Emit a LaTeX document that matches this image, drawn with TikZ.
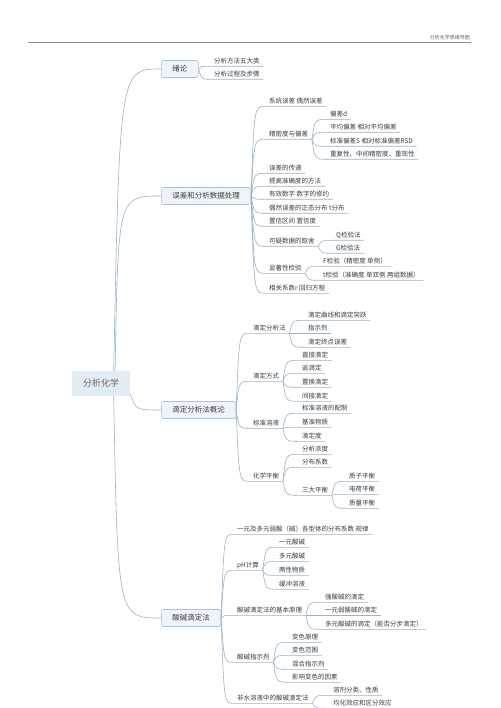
\documentclass[tikz,border=0pt]{standalone}
\usepackage{fontspec}
\setmainfont{Noto Sans CJK SC}
\usetikzlibrary{calc}
\definecolor{lc}{HTML}{9BB3C7}
\definecolor{tc}{HTML}{3C3C3C}
\definecolor{bf}{HTML}{EEF4FA}
\definecolor{bd}{HTML}{A9C2D6}
\definecolor{rf}{HTML}{E2ECF6}
\tikzset{
 conn/.style={draw=lc, line width=0.6pt},
 leaf/.style={anchor=west, inner xsep=3.5pt, inner ysep=1pt, text height=5pt, text depth=1.2pt, font=\fontsize{6.5}{7}\selectfont, text=tc},
 topic/.style={anchor=west, draw=bd, fill=bf, rounded corners=2pt, line width=0.6pt, inner xsep=11pt, minimum height=17pt, font=\fontsize{7.5}{9}\selectfont, text=tc},
 rootbox/.style={fill=rf, minimum width=58pt, minimum height=25pt, font=\fontsize{9}{11}\selectfont, text=black!60},
}
\newcommand\mmlink[2]{\draw[conn] (#1) .. controls ($(#1 |- #2.south west)+(3,0)$) .. (#2.south west) -- (#2.south east);}
\newcommand\mmroot[3]{\draw[conn] (#1) .. controls ($(#1 |- #2.west)+(#3,0)$) .. (#2.west);}
\begin{document}
\begin{tikzpicture}[x=1pt,y=-1pt]
\useasboundingbox (0,0) rectangle (500,708);
\fill[white] (0,0) rectangle (500,708);
% header
\node[anchor=south east, font=\fontsize{5}{6}\selectfont, text=black!60, inner sep=1pt] (hd) at (471,41) {分析化学思维导图};
\coordinate (hl) at (28,42);
\draw[black!45, line width=0.5pt] (hl) -- (hl -| hd.east);
% root
\node[rootbox] (root) at (101,383.5) {分析化学};
% main topics
\node[topic] (A) at (161,69) {绪论};
\node[topic] (B) at (161,196) {误差和分析数据处理};
\node[topic] (C) at (161,410) {滴定分析法概论};
\node[topic] (D) at (161,618) {酸碱滴定法};
\mmroot{root.45}{A}{6}
\mmroot{root.42}{B}{3}
\mmroot{root.-20}{C}{6}
\mmroot{root.-45}{D}{4}
% A
\node[leaf] (a1) at (210.5,62) {分析方法五大类};
\node[leaf] (a2) at (210.5,75) {分析过程及步骤};
\mmlink{A.east}{a1}\mmlink{A.east}{a2}
% B
\node[leaf] (b1) at (265.5,102) {系统误差 偶然误差};
\node[leaf] (b2) at (265.5,135) {精密度与偏差};
\node[leaf] (b21) at (326.5,115) {偏差d};
\node[leaf] (b22) at (326.5,128) {平均偏差 相对平均偏差};
\node[leaf] (b23) at (326.5,142) {标准偏差S 相对标准偏差RSD};
\node[leaf] (b24) at (326.5,155) {重复性、中间精密度、重现性};
\node[leaf] (b3) at (265.5,169) {误差的传递};
\node[leaf] (b4) at (265.5,182) {提高准确度的方法};
\node[leaf] (b5) at (265.5,195) {有效数字 数字的修约};
\node[leaf] (b6) at (265.5,209) {偶然误差的正态分布 t分布};
\node[leaf] (b7) at (265.5,222) {置信区间 置信度};
\node[leaf] (b8) at (265.5,242) {可疑数据的取舍};
\node[leaf] (b81) at (332.5,236) {Q检验法};
\node[leaf] (b82) at (332.5,249) {G检验法};
\node[leaf] (b9) at (265.5,269) {显著性检验};
\node[leaf] (b91) at (319.5,262) {F检验（精密度 单侧）};
\node[leaf] (b92) at (319.5,276) {t检验（准确度 单双侧 两组数据）};
\node[leaf] (b10) at (265.5,289) {相关系数r 回归方程};
\foreach \n in {b1,b2,b3,b4,b5,b6,b7,b8,b9,b10}{\mmlink{B.east}{\n}}
\foreach \n in {b21,b22,b23,b24}{\mmlink{b2.south east}{\n}}
\foreach \n in {b81,b82}{\mmlink{b8.south east}{\n}}
\foreach \n in {b91,b92}{\mmlink{b9.south east}{\n}}
% C
\node[leaf] (c1) at (249.5,329) {滴定分析法};
\node[leaf] (c11) at (304.5,316) {滴定曲线和滴定突跃};
\node[leaf] (c12) at (304.5,329) {指示剂};
\node[leaf] (c13) at (304.5,343) {滴定终点误差};
\node[leaf] (c2) at (249.5,377) {滴定方式};
\node[leaf] (c21) at (298.5,356) {直接滴定};
\node[leaf] (c22) at (298.5,369) {返滴定};
\node[leaf] (c23) at (298.5,383) {置换滴定};
\node[leaf] (c24) at (298.5,397) {间接滴定};
\node[leaf] (c3) at (249.5,424) {标准溶液};
\node[leaf] (c31) at (298.5,409) {标准溶液的配制};
\node[leaf] (c32) at (298.5,423) {基准物质};
\node[leaf] (c33) at (298.5,437) {滴定度};
\node[leaf] (c4) at (249.5,477) {化学平衡};
\node[leaf] (c41) at (298.5,450) {分析浓度};
\node[leaf] (c42) at (298.5,463) {分布系数};
\node[leaf] (c43) at (298.5,491) {三大平衡};
\node[leaf] (c431) at (345.5,477) {质子平衡};
\node[leaf] (c432) at (345.5,490) {电荷平衡};
\node[leaf] (c433) at (345.5,504) {质量平衡};
\foreach \n in {c1,c2,c3,c4}{\mmlink{C.east}{\n}}
\foreach \n in {c11,c12,c13}{\mmlink{c1.south east}{\n}}
\foreach \n in {c21,c22,c23,c24}{\mmlink{c2.south east}{\n}}
\foreach \n in {c31,c32,c33}{\mmlink{c3.south east}{\n}}
\foreach \n in {c41,c42,c43}{\mmlink{c4.south east}{\n}}
\foreach \n in {c431,c432,c433}{\mmlink{c43.south east}{\n}}
% D
\node[leaf] (d1) at (233.5,530) {一元及多元弱酸（碱）各型体的分布系数 规律};
\node[leaf] (d2) at (233.5,566) {pH计算};
\node[leaf] (d21) at (275.5,543) {一元酸碱};
\node[leaf] (d22) at (275.5,557) {多元酸碱};
\node[leaf] (d23) at (275.5,571) {两性物质};
\node[leaf] (d24) at (275.5,585) {缓冲溶液};
\node[leaf] (d3) at (233.5,611) {酸碱滴定法的基本原理};
\node[leaf] (d31) at (321.5,598) {强酸碱的滴定};
\node[leaf] (d32) at (321.5,611) {一元弱酸碱的滴定};
\node[leaf] (d33) at (321.5,625) {多元酸碱的滴定（能否分步滴定）};
\node[leaf] (d4) at (233.5,658) {酸碱指示剂};
\node[leaf] (d41) at (288.5,638) {变色原理};
\node[leaf] (d42) at (288.5,651) {变色范围};
\node[leaf] (d43) at (288.5,665) {混合指示剂};
\node[leaf] (d44) at (288.5,678) {影响变色的因素};
\node[leaf] (d5) at (233.5,699) {非水溶液中的酸碱滴定法};
\node[leaf] (d51) at (329.5,691) {溶剂分类、性质};
\node[leaf] (d52) at (329.5,704) {均化效应和区分效应};
\foreach \n in {d1,d2,d3,d4,d5}{\mmlink{D.east}{\n}}
\foreach \n in {d21,d22,d23,d24}{\mmlink{d2.south east}{\n}}
\foreach \n in {d31,d32,d33}{\mmlink{d3.south east}{\n}}
\foreach \n in {d41,d42,d43,d44}{\mmlink{d4.south east}{\n}}
\foreach \n in {d51,d52}{\mmlink{d5.south east}{\n}}
\end{tikzpicture}
\end{document}
